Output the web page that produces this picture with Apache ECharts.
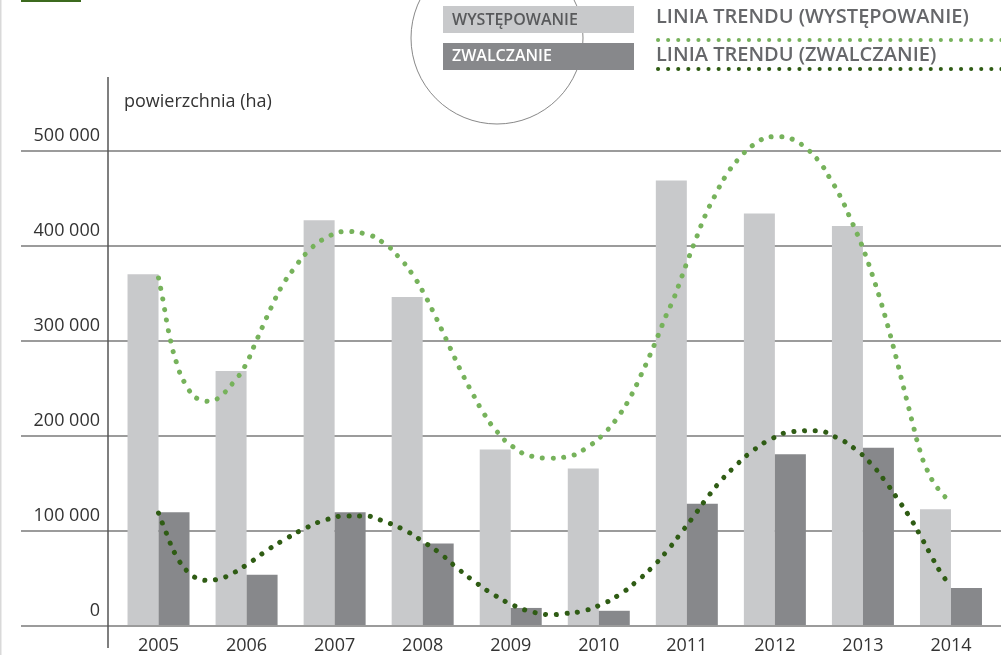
<!DOCTYPE html>
<html>
<head>
<meta charset="utf-8">
<script src="https://cdn.jsdelivr.net/npm/echarts@6/dist/echarts.min.js"></script>
<style>
html,body{margin:0;padding:0;background:#fff;}
#chart{width:1001px;height:655px;}
</style>
</head>
<body>
<div id="chart"></div>
<script>
// ---- data ----
const years = ['2005','2006','2007','2008','2009','2010','2011','2012','2013','2014'];
const wystepowanie = [370000, 268000, 427000, 346000, 185000, 165000, 469000, 434000, 421000, 122000];
const zwalczanie   = [119000, 53000, 119000, 86000, 18000, 15000, 128000, 180000, 187000, 39000];
const yTickLabels = ['0', '100 000', '200 000', '300 000', '400 000', '500 000'];
// trend lines: [category position, area in ha]
const trendWystepowanie = [
  [0,366000],[0.05,343000],[0.093,320000],[0.142,298000],[0.207,276000],[0.301,255000],[0.46,238000],
  [0.584,236000],[0.698,241000],[0.869,258000],[0.982,273000],[1.084,294000],[1.183,315000],[1.285,336000],
  [1.399,357000],[1.539,376000],[1.698,394000],[1.894,408000],[2.133,415000],[2.33,413000],[2.557,403000],
  [2.739,387000],[2.89,369000],[3.018,349000],[3.132,328000],[3.239,307000],[3.348,285000],[3.455,264000],
  [3.568,244000],[3.696,223000],[3.844,204000],[4.026,188000],[4.242,178000],[4.446,176000],[4.662,178000],
  [4.877,188000],[5.07,203000],[5.229,221000],[5.362,241000],[5.476,263000],[5.578,284000],[5.672,305000],
  [5.767,327000],[5.85,344000],[5.937,366000],[6.024,388000],[6.115,410000],[6.209,432000],[6.32,453000],
  [6.444,474000],[6.592,492000],[6.782,508000],[6.975,515000],[7.088,515000],[7.209,512000],[7.315,506000],
  [7.493,490000],[7.633,470000],[7.754,450000],[7.856,429000],[7.955,408000],[8.042,387000],[8.122,365000],
  [8.197,343000],[8.269,320000],[8.333,298000],[8.394,276000],[8.455,253000],[8.515,231000],[8.583,206000],
  [8.644,185000],[8.727,164000],[8.844,145000],[9,129000]
];
const trendZwalczanie = [
  [0,118000],[0.093,96000],[0.195,74000],[0.343,55000],[0.452,49000],[0.573,47000],[0.695,49000],
  [0.812,53000],[1.024,65000],[1.236,79000],[1.448,91000],[1.667,102000],[1.902,111000],[2.149,115000],
  [2.334,115000],[2.569,109000],[2.796,100000],[3.004,88000],[3.205,75000],[3.393,60000],[3.586,46000],
  [3.791,33000],[4.003,22000],[4.238,14000],[4.483,11000],[4.605,12000],[4.786,14000],[5.014,21000],
  [5.233,32000],[5.43,46000],[5.608,61000],[5.774,78000],[5.925,96000],[6.073,114000],[6.221,133000],
  [6.376,151000],[6.543,167000],[6.725,182000],[6.975,197000],[7.209,204000],[7.459,205000],[7.694,198000],
  [7.906,186000],[8.083,171000],[8.242,153000],[8.386,134000],[8.523,115000],[8.648,95000],[8.764,75000],
  [8.886,55000],[9,41000]
];

// ---- styles ----
const FONT = '"Open Sans", "Noto Sans", sans-serif';
const LIGHT_BAR = '#c8c9cb';
const DARK_BAR = '#87888b';
const LIGHT_GREEN = '#76b25b';
const DARK_GREEN = '#2f5c14';
const dots = [0.1, 10.6];

const chart = echarts.init(document.getElementById('chart'), null, {renderer: 'canvas'});
const option = {
  animation: false,
  textStyle: {fontFamily: FONT},
  title: {
    text: 'powierzchnia (ha)', left: 119, top: 88,
    textStyle: {fontFamily: FONT, fontSize: 18, fontWeight: 'normal', color: '#333'}
  },
  grid: [
    {left: 114.5, right: 6, top: 151, bottom: 29},
    {left: 21, right: 0, top: 151, bottom: 29}
  ],
  xAxis: [
    {type: 'category', data: years, gridIndex: 0, boundaryGap: true,
     axisLine: {show: false}, axisTick: {show: false},
     axisLabel: {fontFamily: FONT, fontSize: 18, color: '#333', margin: 12}},
    {type: 'value', gridIndex: 0, min: -0.5, max: 9.5, show: false},
    {type: 'value', gridIndex: 1, min: 0, max: 1, show: false}
  ],
  yAxis: [
    {type: 'value', gridIndex: 0, min: 0, max: 500000, interval: 100000, show: false},
    {type: 'value', gridIndex: 1, min: 0, max: 500000, interval: 100000,
     axisLine: {show: false}, axisTick: {show: false},
     splitLine: {show: true, lineStyle: {color: '#7a7a7a', width: 1.5}},
     axisLabel: {inside: true, align: 'right', margin: 79, verticalAlign: 'bottom',
       lineHeight: 31, fontFamily: FONT, fontSize: 18, color: '#333',
       formatter: function (v) { return yTickLabels[Math.round(v / 100000)]; }}}
  ],
  series: [
    {name: 'WYSTĘPOWANIE', type: 'bar', xAxisIndex: 0, yAxisIndex: 0, data: wystepowanie,
     barWidth: 31, barGap: '0%', itemStyle: {color: LIGHT_BAR}, z: 2},
    {name: 'ZWALCZANIE', type: 'bar', xAxisIndex: 0, yAxisIndex: 0, data: zwalczanie,
     barWidth: 31, barGap: '0%', itemStyle: {color: DARK_BAR}, z: 2},
    {name: 'LINIA TRENDU (WYSTĘPOWANIE)', type: 'line', xAxisIndex: 1, yAxisIndex: 0,
     data: trendWystepowanie, smooth: true, showSymbol: false, clip: false, z: 3,
     lineStyle: {color: LIGHT_GREEN, width: 5, type: dots, cap: 'round'}},
    {name: 'LINIA TRENDU (ZWALCZANIE)', type: 'line', xAxisIndex: 1, yAxisIndex: 0,
     data: trendZwalczanie, smooth: true, showSymbol: false, clip: false, z: 3,
     lineStyle: {color: DARK_GREEN, width: 5, type: dots, cap: 'round'}}
  ],
  graphic: [
    {type: 'rect', shape: {x: 0, y: 0, width: 1.5, height: 655}, style: {fill: '#d9d9d9'}, z: 1},
    {type: 'rect', shape: {x: 21, y: -2, width: 60, height: 4}, style: {fill: '#3c6a1e'}, z: 10},
    {type: 'line', shape: {x1: 108, y1: 77, x2: 108, y2: 648}, style: {stroke: '#555', lineWidth: 1.5}, z: 5},
    {type: 'circle', shape: {cx: 497, cy: 38, r: 86}, style: {fill: 'none', stroke: '#6a6a6a', lineWidth: 0.8}, z: 5},
    {type: 'rect', shape: {x: 443, y: 6, width: 191, height: 27}, style: {fill: LIGHT_BAR}, z: 6},
    {type: 'text', x: 452, y: 20, style: {text: 'WYSTĘPOWANIE', fill: '#58595b', fontFamily: FONT, fontSize: 16, fontWeight: 600, verticalAlign: 'middle'}, z: 7},
    {type: 'rect', shape: {x: 443, y: 43, width: 191, height: 27}, style: {fill: DARK_BAR}, z: 6},
    {type: 'text', x: 452, y: 56, style: {text: 'ZWALCZANIE', fill: '#ffffff', fontFamily: FONT, fontSize: 16, fontWeight: 600, verticalAlign: 'middle'}, z: 7},
    {type: 'text', x: 656, y: 17, style: {text: 'LINIA TRENDU (WYSTĘPOWANIE)', fill: '#66676a', fontFamily: FONT, fontSize: 20, fontWeight: 600, verticalAlign: 'middle'}, z: 7},
    {type: 'line', shape: {x1: 658, y1: 40, x2: 1010, y2: 40}, style: {stroke: LIGHT_GREEN, lineWidth: 4, lineDash: [0.1, 10], lineCap: 'round'}, z: 7},
    {type: 'text', x: 656, y: 55, style: {text: 'LINIA TRENDU (ZWALCZANIE)', fill: '#66676a', fontFamily: FONT, fontSize: 20, fontWeight: 600, verticalAlign: 'middle'}, z: 7},
    {type: 'line', shape: {x1: 658, y1: 69, x2: 1010, y2: 69}, style: {stroke: DARK_GREEN, lineWidth: 4, lineDash: [0.1, 10], lineCap: 'round'}, z: 7}
  ]
};
chart.setOption(option);
</script>
</body>
</html>
